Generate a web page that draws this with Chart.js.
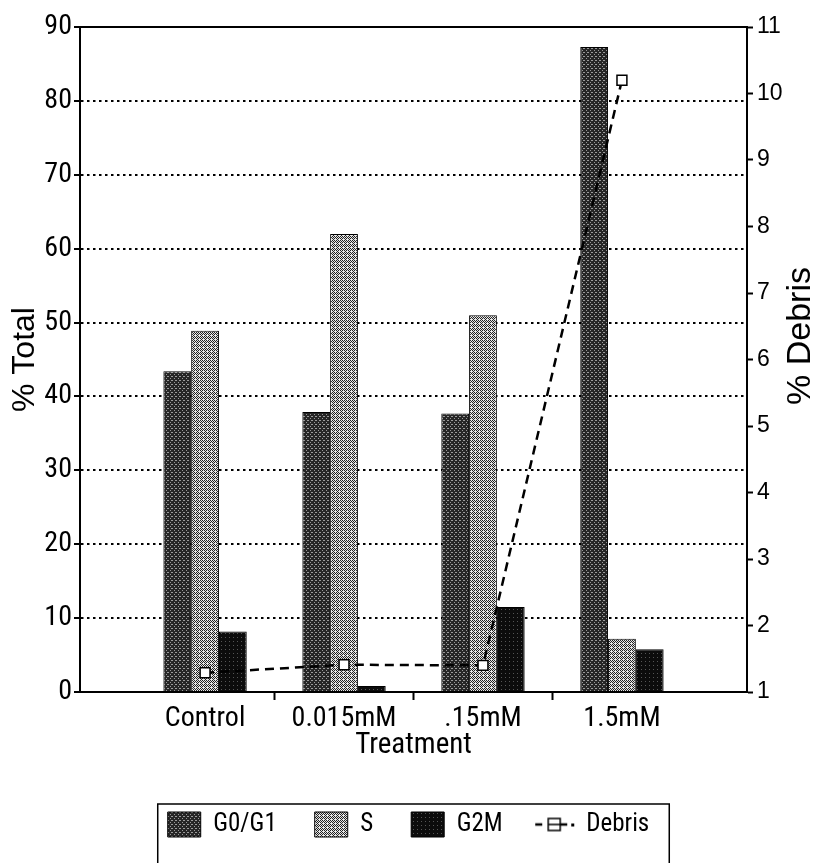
<!DOCTYPE html>
<html>
<head>
<meta charset="utf-8">
<script src="https://cdn.jsdelivr.net/npm/chart.js@4.4.0/dist/chart.umd.min.js"></script>
<style>
html, body { margin: 0; background: #fff; }
#contenedor { width: 817px; height: 863px; }
</style>
</head>
<body>
<div id="contenedor"><canvas id="grafico"></canvas></div>
<script>
// datos
var treatments = ['Control', '0.015mM', '.15mM', '1.5mM'];
var g0g1 = [43.4, 37.9, 37.7, 87.3];
var sPhase = [48.9, 62.0, 51.0, 7.2];
var g2m = [8.2, 0.8, 11.5, 5.8];
var debris = [1.29, 1.41, 1.4, 10.2];
var totalRange = [0, 90, 10];
var debrisRange = [1, 11, 1];

var NARROW = "'Roboto Condensed', 'DejaVu Sans Condensed', sans-serif";
var SANS = "'Liberation Sans', Arial, sans-serif";

//<editor-fold desc="Funciones">
function puntos(valores) {
	return valores.map(function (v, i) {
		return {x: i, y: v};
	});
}

// trama de puntos tipo fotocopia
function trama(base, otro, celdas) {
	var c = document.createElement('canvas');
	c.width = 4;
	c.height = 4;
	var g = c.getContext('2d');
	g.fillStyle = base;
	g.fillRect(0, 0, 4, 4);
	g.fillStyle = otro;
	celdas.forEach(function (p) {
		g.fillRect(p[0], p[1], 1, 1);
	});
	return g.createPattern(c, 'repeat');
}

// simbolo de la leyenda para Debris: -[]-.
function simboloDebris() {
	var c = document.createElement('canvas');
	c.width = 46;
	c.height = 16;
	var g = c.getContext('2d');
	g.strokeStyle = '#000';
	g.lineWidth = 2.5;
	g.beginPath();
	g.moveTo(1, 8); g.lineTo(8, 8);
	g.moveTo(26, 8); g.lineTo(33, 8);
	g.stroke();
	g.fillStyle = '#000';
	g.fillRect(37, 7, 3, 3);
	g.lineWidth = 1.5;
	g.fillStyle = '#fff';
	g.fillRect(14, 2, 12, 12);
	g.strokeRect(14, 2, 12, 12);
	g.beginPath();
	g.moveTo(14, 8); g.lineTo(26, 8);
	g.stroke();
	return c;
}
//</editor-fold>

var patG0 = trama('#262626', '#9a9a9a', [[0, 0], [2, 2], [3, 0]]);
var patS = trama('#e6e6e6', '#222222', [[0, 0], [2, 0], [1, 1], [3, 1], [0, 2], [2, 2], [1, 3]]);
var patG2 = trama('#0c0c0c', '#555555', [[1, 1]]);
var glifoDebris = simboloDebris();

var marcoPlugin = {
	id: 'marco',
	afterDraw: function (chart) {
		var ctx = chart.ctx;
		var area = chart.chartArea;
		ctx.save();
		ctx.strokeStyle = '#000';
		// borde superior del area
		ctx.lineWidth = 2;
		ctx.beginPath();
		ctx.moveTo(area.left, area.top);
		ctx.lineTo(area.right, area.top);
		ctx.stroke();
		// caja de la leyenda
		var cajas = chart.legend.legendHitBoxes;
		if (cajas && cajas.length) {
			var izq = cajas[0].left - 10;
			var ult = cajas[cajas.length - 1];
			var der = ult.left + ult.width + 20;
			var arriba = cajas[0].top - 8;
			ctx.lineWidth = 1.5;
			ctx.beginPath();
			ctx.moveTo(izq, chart.height + 5);
			ctx.lineTo(izq, arriba);
			ctx.lineTo(der, arriba);
			ctx.lineTo(der, chart.height + 5);
			ctx.stroke();
		}
		// titulo del eje derecho, leido de abajo hacia arriba
		ctx.fillStyle = '#000';
		ctx.font = '34px ' + SANS;
		ctx.textAlign = 'center';
		ctx.textBaseline = 'middle';
		ctx.translate(chart.width - 16, 336);
		ctx.rotate(-Math.PI / 2);
		ctx.fillText('% Debris', 0, 0);
		ctx.restore();
	}
};

Chart.defaults.color = '#000';

var ctx = document.getElementById('grafico').getContext('2d');
new Chart(ctx, {
	type: 'bar',
	data: {
		datasets: [
			{label: 'G0/G1', data: puntos(g0g1), backgroundColor: patG0, borderColor: '#000', borderWidth: 1, order: 1},
			{label: 'S', data: puntos(sPhase), backgroundColor: patS, borderColor: '#000', borderWidth: 1, order: 1},
			{label: 'G2M', data: puntos(g2m), backgroundColor: patG2, borderColor: '#000', borderWidth: 1, order: 1},
			{
				type: 'line', label: 'Debris', data: puntos(debris), yAxisID: 'y1', order: 0,
				borderColor: '#000', borderWidth: 2.5, borderDash: [9, 6], fill: false,
				pointStyle: 'rect', pointRadius: 7, pointBackgroundColor: '#fff',
				pointBorderColor: '#000', pointBorderWidth: 1.5
			}
		]
	},
	options: {
		responsive: true,
		maintainAspectRatio: false,
		animation: false,
		layout: {padding: {top: 27, bottom: 16, left: 0, right: 0}},
		datasets: {bar: {categoryPercentage: 0.6, barPercentage: 1.0}},
		scales: {
			x: {
				type: 'linear',
				min: -0.9,
				max: 3.9,
				offset: false,
				afterBuildTicks: function (scale) {
					scale.ticks = treatments.map(function (t, i) {
						return {value: i};
					});
				},
				afterFit: function (scale) {
					scale.height = 82;
				},
				ticks: {
					autoSkip: false,
					maxRotation: 0,
					padding: 2,
					font: {family: NARROW, size: 28},
					callback: function (v) {
						return treatments[v];
					}
				},
				grid: {
					offset: true,
					drawOnChartArea: false,
					tickLength: 8,
					tickWidth: 2,
					tickColor: function (c) {
						return c.index > 0 ? '#000' : 'rgba(0,0,0,0)';
					}
				},
				border: {color: '#000', width: 2},
				title: {display: true, text: 'Treatment', font: {family: NARROW, size: 29}, padding: {top: 0, bottom: 11}}
			},
			y: {
				position: 'left',
				min: totalRange[0],
				max: totalRange[1],
				afterFit: function (scale) {
					scale.width = 80;
				},
				ticks: {stepSize: totalRange[2], padding: 2, font: {family: NARROW, size: 28}},
				grid: {
					lineWidth: 2,
					color: function (c) {
						var v = c.tick ? c.tick.value : 0;
						return (v === totalRange[0] || v === totalRange[1]) ? 'rgba(0,0,0,0)' : '#000';
					},
					tickColor: '#000',
					tickLength: 6,
					tickWidth: 2
				},
				border: {color: '#000', width: 2, dash: [2.5, 3.5]},
				title: {display: true, text: '% Total', font: {family: SANS, size: 32}, padding: {top: 6, bottom: 0}}
			},
			y1: {
				position: 'right',
				min: debrisRange[0],
				max: debrisRange[1],
				afterFit: function (scale) {
					scale.width = 70;
				},
				ticks: {stepSize: debrisRange[2], padding: 4, font: {family: SANS, size: 23}},
				grid: {drawOnChartArea: false, tickColor: '#000', tickLength: 6, tickWidth: 2},
				border: {color: '#000', width: 2}
			}
		},
		plugins: {
			tooltip: {enabled: false},
			legend: {
				position: 'bottom',
				labels: {
					usePointStyle: true,
					pointStyleWidth: 33,
					boxHeight: 25,
					padding: 38,
					font: {family: NARROW, size: 25},
					sort: function (a, b) {
						return a.datasetIndex - b.datasetIndex;
					},
					generateLabels: function (chart) {
						var items = Chart.defaults.plugins.legend.labels.generateLabels(chart);
						items.forEach(function (item) {
							item.pointStyle = item.datasetIndex === 3 ? glifoDebris : 'rect';
						});
						return items;
					}
				}
			}
		}
	},
	plugins: [marcoPlugin]
});
</script>
</body>
</html>
